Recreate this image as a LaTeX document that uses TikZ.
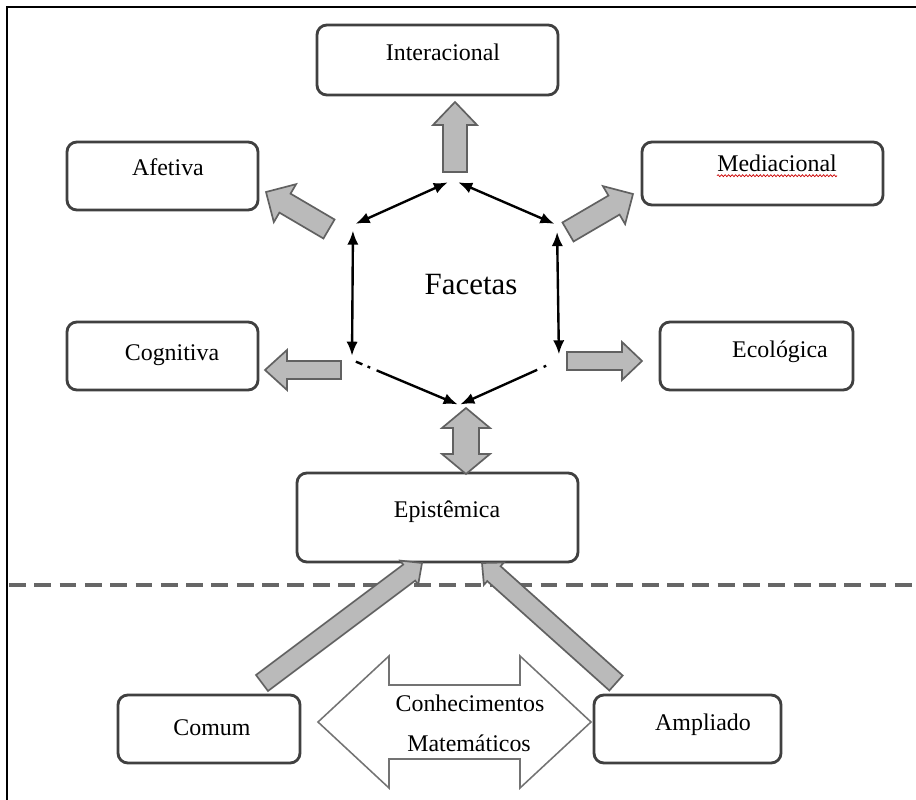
\documentclass[tikz,border=0pt]{standalone}
\usepackage{fontspec}
\setmainfont{Liberation Serif}
\usetikzlibrary{calc,fit,arrows.meta,decorations.pathmorphing}
\newcommand\blockarrow[6]{%
  \pgfmathsetlengthmacro\baw{#4*0.025cm}%
  \pgfmathsetlengthmacro\bah{#5*0.025cm}%
  \pgfmathsetlengthmacro\bal{#6*0.025cm}%
  \coordinate (#1-h) at ($(#3)!\bal!(#2)$);
  \draw[blockarr] ($(#2)!\baw!90:(#3)$) -- ($(#1-h)!\baw!90:(#3)$) -- ($(#1-h)!\bah!90:(#3)$) -- (#3)
     -- ($(#1-h)!\bah!-90:(#3)$) -- ($(#1-h)!\baw!-90:(#3)$) -- ($(#2)!\baw!-90:(#3)$) -- cycle;}
\newcommand\dblockarrow[7]{%
  \pgfmathsetlengthmacro\baw{#4*0.025cm}%
  \pgfmathsetlengthmacro\bah{#5*0.025cm}%
  \pgfmathsetlengthmacro\bal{#6*0.025cm}%
  \coordinate (#1-ha) at ($(#2)!\bal!(#3)$);
  \coordinate (#1-hb) at ($(#3)!\bal!(#2)$);
  \draw[#7] (#2) -- ($(#1-ha)!\bah!90:(#3)$) -- ($(#1-ha)!\baw!90:(#3)$) -- ($(#1-hb)!\baw!90:(#3)$)
     -- ($(#1-hb)!\bah!90:(#3)$) -- (#3) -- ($(#1-hb)!\bah!-90:(#3)$) -- ($(#1-hb)!\baw!-90:(#3)$)
     -- ($(#1-ha)!\baw!-90:(#3)$) -- ($(#1-ha)!\bah!-90:(#3)$) -- cycle;}
\begin{document}
\begin{tikzpicture}[x=0.025cm,y=-0.025cm,
  box/.style={draw=black!75, line width=2pt, rounded corners=7pt, fill=white, inner sep=0pt},
  lbl/.style={font=\fontsize{17}{19}\selectfont, inner sep=0pt},
  blockarr/.style={draw=black!62, fill=black!27, line width=1.2pt, line join=miter},
  bigarr/.style={draw=black!55, fill=white, line width=1.1pt, line join=miter},
  hexarr/.style={line width=1.7pt, {Latex[length=10pt,width=8pt]}-{Latex[length=10pt,width=8pt]}},
  hexone/.style={line width=1.7pt, -{Latex[length=10pt,width=8pt]}},
  frame/.style={line width=1.4pt, black}]
\useasboundingbox (0,0) rectangle (916,800);
\fill[white] (0,0) rectangle (916,800);
% frame
\coordinate (fTL) at (7,7);
\coordinate (fTR) at (916,7);
\coordinate (fBL) at (7,800);
\draw[frame] (fBL) -- (fTL) -- (fTR);
% dashed separator
\coordinate (dL) at (9,585);
\coordinate (dR) at (916,585);
\draw[black!60, line width=2.2pt, dash pattern=on 12pt off 6pt] (dL) -- (dR);

% boxes
\node[box, fit={(317,25) (558,95)}] (interB) {};
\node[box, fit={(67,142) (258,210)}] (afetB) {};
\node[box, fit={(642,142) (883,205)}] (mediB) {};
\node[box, fit={(67,322) (258,390)}] (cognB) {};
\node[box, fit={(660,322) (853,390)}] (ecolB) {};
\node[box, fit={(297,473) (578,562)}] (episB) {};
\node[box, fit={(118,695) (300,763)}] (comB) {};
\node[box, fit={(594,695) (781,763)}] (ampB) {};

% labels
\node[lbl] (inter) at (443,52) {Interacional};
\node[lbl] (afet) at (168,167) {Afetiva};
\node[lbl] (medi) at (777,163) {Mediacional};
\node[lbl] (cogn) at (172,355) {Cognitiva};
\node[lbl] (ecol) at (780,352) {Ecológica};
\node[lbl] (epis) at (447,512) {Epistêmica};
\node[lbl] (com) at (212,728) {Comum};
\node[lbl] (amp) at (703,725) {Ampliado};
\draw[red!80!black, line width=0.5pt, decorate, decoration={snake, amplitude=0.7pt, segment length=2.5pt}]
  (medi.south west) ++(0,4) coordinate (uL) -- (uL -| medi.south east);

% hexagon
\coordinate (T) at (453,180);
\coordinate (UL) at (353,225);
\coordinate (UR) at (557,225);
\coordinate (LL) at (352,360);
\coordinate (LR) at (559,360);
\coordinate (B) at (459,405);
\node[font=\fontsize{22}{24}\selectfont, inner sep=0pt] (fac) at (471,285) {Facetas};
\draw[hexarr, shorten <=2pt, shorten >=4pt] (UL) -- (T);
\draw[hexarr, shorten <=4pt, shorten >=2pt] (T) -- (UR);
\draw[hexarr, shorten <=4pt, shorten >=3pt] (UL) -- (LL);
\draw[hexarr, shorten <=5pt, shorten >=4pt] (UR) -- (LR);
\draw[hexone, shorten <=3pt, shorten >=1pt, dash pattern=on 5pt off 4pt on 2pt off 5pt on 200pt] (LL) -- (B);
\draw[hexone, shorten <=10pt, shorten >=1pt, dash pattern=on 2pt off 5pt on 200pt] (LR) -- (B);

% block arrows from the hexagon
\coordinate (a1t) at (455,172); \coordinate (a1h) at (455,102);
\blockarrow{a1}{a1t}{a1h}{12}{22}{23}
\coordinate (a2t) at (329,229); \coordinate (a2h) at (266,192);
\blockarrow{a2}{a2t}{a2h}{11}{22}{22}
\coordinate (a3t) at (568,232); \coordinate (a3h) at (633,194);
\blockarrow{a3}{a3t}{a3h}{11}{22}{22}
\coordinate (a4t) at (341,370); \coordinate (a4h) at (265,370);
\blockarrow{a4}{a4t}{a4h}{9}{20}{22}
\coordinate (a5t) at (567,361); \coordinate (a5h) at (642,361);
\blockarrow{a5}{a5t}{a5h}{9}{19}{20}
% epistemica double arrow
\coordinate (e1) at (466,408); \coordinate (e2) at (466,474);
\dblockarrow{ea}{e1}{e2}{13}{24}{20}{blockarr}
% lower arrows
\coordinate (l1t) at (262,683); \coordinate (l1h) at (422,563);
\blockarrow{l1}{l1t}{l1h}{10}{15}{16}
\coordinate (r1t) at (616,683); \coordinate (r1h) at (482,563);
\blockarrow{r1}{r1t}{r1h}{10}{15}{16}
% big double arrow
\coordinate (k1) at (318,722); \coordinate (k2) at (591,722);
\dblockarrow{kb}{k1}{k2}{37}{66}{71}{bigarr}
\node[lbl] (con1) at (470,703) {Conhecimentos};
\node[lbl] (con2) at (469,743) {Matemáticos};
\end{tikzpicture}
\end{document}
